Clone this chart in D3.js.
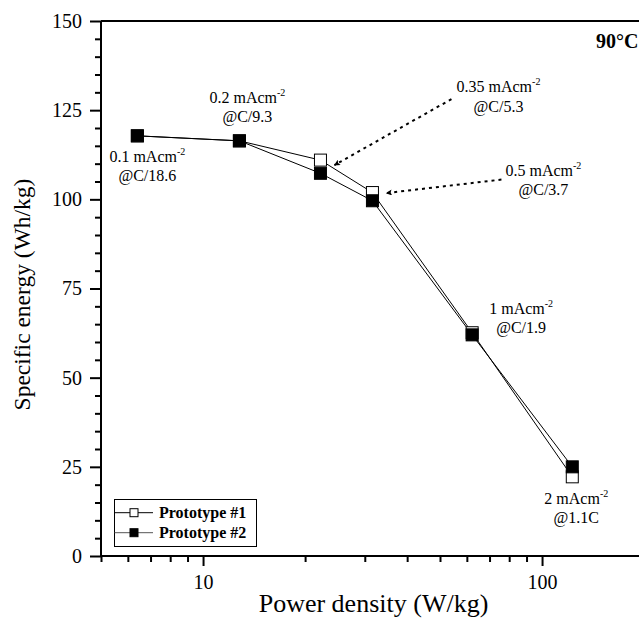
<!DOCTYPE html>
<html>
<head>
<meta charset="utf-8">
<script src="https://cdn.jsdelivr.net/npm/d3@7/dist/d3.min.js"></script>
<style>
  html, body { margin: 0; padding: 0; background: #fff; }
  svg { display: block; }
  text { font-family: "Liberation Serif", "Times New Roman", serif; fill: #000; }
</style>
</head>
<body>
<svg id="chart" width="639" height="628"></svg>
<script>
// ---- data ----
const powerDensity = [6.4, 12.8, 22.2, 31.6, 62.2, 122.8];          // W/kg
const prototype1   = [117.8, 116.4, 111.0, 101.9, 62.6, 22.2];      // Wh/kg (open squares)
const prototype2   = [117.8, 116.4, 107.3, 99.6, 62.0, 25.0];       // Wh/kg (filled squares)
const seriesNames  = ["Prototype #1", "Prototype #2"];
const currentLabels = ["0.1", "0.2", "0.35", "0.5", "1", "2"];      // mAcm^-2
const rateLabels    = ["@C/18.6", "@C/9.3", "@C/5.3", "@C/3.7", "@C/1.9", "@1.1C"];
const yTicks = [0, 25, 50, 75, 100, 125, 150];
const xMajorTicks = [10, 100];
const temperatureLabel = "90°C";

// ---- layout ----
const svg = d3.select("#chart");
const mLeft = 101, mTop = 21, mBottom = 556;
const x = d3.scaleLog().domain([5, 200]).range([mLeft, mLeft + 339 * Math.log10(40)]);
const y = d3.scaleLinear().domain([0, 150]).range([mBottom, mTop]);

// minor ticks
const yMinor = d3.range(0, 151, 5).filter(v => v % 25 !== 0);
const xMinor = [5,6,7,8,9,20,30,40,50,60,70,80,90,200];

// Y axis
const gy = svg.append("g").attr("transform", `translate(${mLeft},0)`);
gy.call(d3.axisLeft(y).tickValues(yMinor).tickSize(6).tickFormat(""));
gy.select(".domain").remove();
const gyMaj = svg.append("g").attr("transform", `translate(${mLeft},0)`)
  .call(d3.axisLeft(y).tickValues(yTicks).tickSize(11).tickPadding(8).tickSizeOuter(0));
gyMaj.selectAll(".tick text").style("font-size", "20px").attr("font-family", "Liberation Serif");
gyMaj.select(".domain").attr("stroke-width", 2).attr("d", `M0,${mTop}V${mBottom}`);

// X axis
const gx = svg.append("g").attr("transform", `translate(0,${mBottom})`)
  .call(d3.axisBottom(x).tickValues(xMinor).tickSize(6).tickFormat(""));
gx.select(".domain").remove();
const gxMaj = svg.append("g").attr("transform", `translate(0,${mBottom})`)
  .call(d3.axisBottom(x).tickValues(xMajorTicks).tickSize(10).tickPadding(9).tickFormat(d3.format("d")).tickSizeOuter(0));
gxMaj.select(".domain").attr("stroke-width", 2).attr("d", `M${mLeft},0H640`);
gxMaj.selectAll(".tick text").style("font-size", "20px").attr("font-family", "Liberation Serif");
svg.selectAll(".tick line").attr("stroke", "#000").attr("stroke-width", 2);

// top frame line
svg.append("line").attr("x1", mLeft).attr("x2", 640).attr("y1", mTop).attr("y2", mTop)
  .attr("stroke", "#000").attr("stroke-width", 2);

// axis titles
svg.append("text").attr("x", 373.5).attr("y", 611.5).attr("text-anchor", "middle")
  .style("font-size", "26px").text("Power density (W/kg)");
svg.append("text").attr("transform", "translate(29.5,294.5) rotate(-90)").attr("text-anchor", "middle")
  .style("font-size", "23.5px").text("Specific energy (Wh/kg)");

// temperature label
svg.append("text").attr("x", 596).attr("y", 48).style("font-size", "20px").style("font-weight", "bold")
  .text(temperatureLabel);

// ---- series ----
const line = d3.line().x(d => x(d[0])).y(d => y(d[1]));
const s1 = powerDensity.map((p, i) => [p, prototype1[i]]);
const s2 = powerDensity.map((p, i) => [p, prototype2[i]]);
const sz = 12;

svg.append("path").datum(s1).attr("d", line).attr("fill", "none").attr("stroke", "#000").attr("stroke-width", 1);
svg.append("path").datum(s2).attr("d", line).attr("fill", "none").attr("stroke", "#000").attr("stroke-width", 1);

svg.append("g").selectAll("rect").data(s1).join("rect")
  .attr("x", d => x(d[0]) - sz / 2).attr("y", d => y(d[1]) - sz / 2)
  .attr("width", sz).attr("height", sz).attr("fill", "#fff").attr("stroke", "#000").attr("stroke-width", 1);
svg.append("g").selectAll("rect").data(s2).join("rect")
  .attr("x", d => x(d[0]) - sz / 2).attr("y", d => y(d[1]) - sz / 2)
  .attr("width", sz).attr("height", sz).attr("fill", "#000").attr("stroke", "#000").attr("stroke-width", 1);

// ---- annotations ----
// offsets of label (centre, first baseline) relative to the filled point
const labelOffsets = [[10, 26], [8, -38], [178, -81], [171, -25], [49, -21], [4, 37]];
const ann = svg.append("g");
powerDensity.forEach((p, i) => {
  const cx = x(p) + labelOffsets[i][0];
  const cy = y(prototype2[i]) + labelOffsets[i][1];
  const t = ann.append("text").attr("x", cx).attr("y", cy).attr("text-anchor", "middle").style("font-size", "16px");
  t.append("tspan").text(currentLabels[i] + " mAcm");
  t.append("tspan").attr("dy", -7).style("font-size", "10px").text("-2");
  ann.append("text").attr("x", cx).attr("y", cy + 19.5).attr("text-anchor", "middle").style("font-size", "16px")
    .text(rateLabels[i]);
});

// arrows (dashed) from labels to points 3 and 4 (open squares)
svg.append("defs").append("marker").attr("id", "ah").attr("viewBox", "0 0 10 10")
  .attr("refX", 9).attr("refY", 5).attr("markerWidth", 8).attr("markerHeight", 6)
  .attr("markerUnits", "userSpaceOnUse").attr("orient", "auto")
  .append("path").attr("d", "M0,0L10,5L0,10L2,5Z").attr("fill", "#000");
const arrows = [
  { i: 2, from: [131, -61], to: [14, 5] },
  { i: 3, from: [129, -13], to: [14, 0.5] }
];
arrows.forEach(a => {
  const px = x(powerDensity[a.i]), py = y(prototype1[a.i]);
  svg.append("line")
    .attr("x1", px + a.from[0]).attr("y1", py + a.from[1])
    .attr("x2", px + a.to[0]).attr("y2", py + a.to[1])
    .attr("stroke", "#000").attr("stroke-width", 2).attr("stroke-dasharray", "3,4")
    .attr("marker-end", "url(#ah)");
});

// ---- legend ----
const lg = svg.append("g");
lg.append("rect").attr("x", 114.5).attr("y", 499.5).attr("width", 142).attr("height", 47)
  .attr("fill", "#fff").attr("stroke", "#000").attr("stroke-width", 1);
seriesNames.forEach((name, i) => {
  const ly = 512.7 + i * 20;
  lg.append("line").attr("x1", 114.5).attr("x2", 153).attr("y1", ly).attr("y2", ly)
    .attr("stroke", i === 0 ? "#000" : "#555").attr("stroke-width", 1);
  lg.append("rect").attr("x", 130).attr("y", ly - 4).attr("width", 8).attr("height", 8)
    .attr("fill", i === 0 ? "#fff" : "#000").attr("stroke", "#000").attr("stroke-width", 1);
  lg.append("text").attr("x", 159).attr("y", ly + 5.5).style("font-size", "16px").style("font-weight", "bold")
    .text(name);
});
</script>
</body>
</html>
